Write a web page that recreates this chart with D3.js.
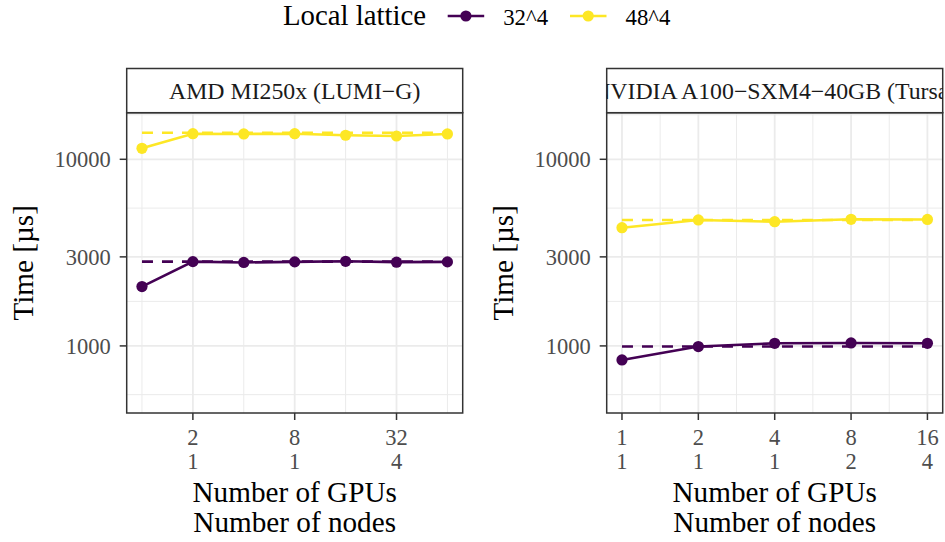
<!DOCTYPE html>
<html>
<head>
<meta charset="utf-8">
<script src="https://cdn.jsdelivr.net/npm/d3@7"></script>
<style>
  body { margin: 0; background: #ffffff; }
  text { font-family: "Liberation Serif", "DejaVu Serif", serif; }
</style>
</head>
<body>
<div id="chart"></div>
<script>

// ---- data ----
var seriesNames = ["32^4", "48^4"];
var seriesColors = ["#440154", "#FDE725"];

// LUMI-G panel
var lumiTitle = "AMD MI250x (LUMI\u2212G)";
var lumiGpus = [1, 2, 4, 8, 16, 32, 64];
var lumi32 = [2080, 2830, 2800, 2820, 2840, 2810, 2820];
var lumi48 = [11450, 13710, 13670, 13710, 13450, 13330, 13670];
var lumiRef32 = 2830;
var lumiRef48 = 13880;
var lumiTicks = [2, 8, 32];
var lumiNodeLabels = ["1", "1", "4"];

// Tursa panel
var tursaTitle = "NVIDIA A100\u2212SXM4\u221240GB (Tursa)";
var tursaGpus = [1, 2, 4, 8, 16];
var tursa32 = [841, 992, 1033, 1037, 1033];
var tursa48 = [4300, 4730, 4630, 4770, 4760];
var tursaRef32 = 992;
var tursaRef48 = 4730;
var tursaTicks = [1, 2, 4, 8, 16];
var tursaNodeLabels = ["1", "1", "1", "2", "4"];

var yTicks = [1000, 3000, 10000];
var yMinor = [548, 1732, 5477, 17320];

// ---- layout ----
var svgWidth = 945;
var svgHeight = 542;

var stripTop = 68.5;
var panelTop = 112.7;
var panelBottom = 413;

var svg = d3.select("#chart")
  .append("svg")
  .attr("width", svgWidth)
  .attr("height", svgHeight);

// shared log y scale
var yScale = d3.scaleLog()
  .domain([437, 17770])
  .range([panelBottom, panelTop]);

svg.append("defs").append("clipPath")
  .attr("id", "stripClip2")
  .append("rect")
  .attr("x", 606.7).attr("y", stripTop)
  .attr("width", 336).attr("height", panelTop - stripTop);

function drawPanel(cfg) {
  var x0 = cfg.x0, x1 = cfg.x1;
  var lo = Math.log2(d3.min(cfg.gpus)), hi = Math.log2(d3.max(cfg.gpus));
  var pad = (hi - lo) * 0.05;

  var xScale = d3.scaleLog()
    .base(2)
    .domain([Math.pow(2, lo - pad), Math.pow(2, hi + pad)])
    .range([x0, x1]);

  var g = svg.append("g");

  // minor x gridlines at midpoints between major ticks (log space)
  var xMinor = [];
  var step = Math.log2(cfg.ticks[1]) - Math.log2(cfg.ticks[0]);
  for (var v = Math.log2(cfg.ticks[0]) - step / 2; v <= hi + pad; v += step) {
    xMinor.push(Math.pow(2, v));
  }
  xMinor = xMinor.filter(d => xScale(d) > x0 && xScale(d) < x1);

  g.selectAll(".xminor")
    .data(xMinor)
    .enter()
    .append("line")
    .attr("x1", d => xScale(d)).attr("x2", d => xScale(d))
    .attr("y1", panelTop).attr("y2", panelBottom)
    .attr("stroke", "#ebebeb")
    .attr("stroke-width", 1);

  g.selectAll(".yminor")
    .data(yMinor.filter(d => yScale(d) > panelTop && yScale(d) < panelBottom))
    .enter()
    .append("line")
    .attr("x1", x0).attr("x2", x1)
    .attr("y1", d => yScale(d)).attr("y2", d => yScale(d))
    .attr("stroke", "#ebebeb")
    .attr("stroke-width", 1);

  g.selectAll(".xmajor")
    .data(cfg.ticks)
    .enter()
    .append("line")
    .attr("x1", d => xScale(d)).attr("x2", d => xScale(d))
    .attr("y1", panelTop).attr("y2", panelBottom)
    .attr("stroke", "#ebebeb")
    .attr("stroke-width", 1.8);

  g.selectAll(".ymajor")
    .data(yTicks)
    .enter()
    .append("line")
    .attr("x1", x0).attr("x2", x1)
    .attr("y1", d => yScale(d)).attr("y2", d => yScale(d))
    .attr("stroke", "#ebebeb")
    .attr("stroke-width", 1.8);

  // dashed reference lines
  cfg.refs.forEach(function(r, i) {
    g.append("path")
      .datum(cfg.gpus)
      .attr("d", d3.line().x(d => xScale(d)).y(() => yScale(r)))
      .attr("fill", "none")
      .attr("stroke", seriesColors[i])
      .attr("stroke-width", 2.6)
      .attr("stroke-dasharray", "11,9");
  });

  // measured lines + points
  cfg.series.forEach(function(vals, i) {
    var pts = cfg.gpus.map((gp, j) => ({ gpus: gp, time: vals[j] }));

    g.append("path")
      .datum(pts)
      .attr("d", d3.line().x(d => xScale(d.gpus)).y(d => yScale(d.time)))
      .attr("fill", "none")
      .attr("stroke", seriesColors[i])
      .attr("stroke-width", 2.6);

    g.selectAll(".pt" + i)
      .data(pts)
      .enter()
      .append("circle")
      .attr("cx", d => xScale(d.gpus))
      .attr("cy", d => yScale(d.time))
      .attr("r", 5.6)
      .attr("fill", seriesColors[i]);
  });

  // panel border
  g.append("rect")
    .attr("x", x0).attr("y", panelTop)
    .attr("width", x1 - x0).attr("height", panelBottom - panelTop)
    .attr("fill", "none")
    .attr("stroke", "#333333")
    .attr("stroke-width", 1.5);

  // strip
  g.append("rect")
    .attr("x", x0).attr("y", stripTop)
    .attr("width", x1 - x0).attr("height", panelTop - stripTop)
    .attr("fill", "#ffffff")
    .attr("stroke", "#333333")
    .attr("stroke-width", 1.5);

  var strip = g.append("text")
    .attr("x", (x0 + x1) / 2)
    .attr("y", 99.3)
    .attr("text-anchor", "middle")
    .attr("font-size", "23.8px")
    .attr("fill", "#1a1a1a")
    .text(cfg.title);
  if (cfg.clip) strip.attr("clip-path", "url(#" + cfg.clip + ")");

  // y axis ticks + labels
  g.selectAll(".ytick")
    .data(yTicks)
    .enter()
    .append("line")
    .attr("x1", x0 - 7).attr("x2", x0)
    .attr("y1", d => yScale(d)).attr("y2", d => yScale(d))
    .attr("stroke", "#333333")
    .attr("stroke-width", 1.5);

  g.selectAll(".ylab")
    .data(yTicks)
    .enter()
    .append("text")
    .attr("x", x0 - 16)
    .attr("y", d => yScale(d))
    .attr("dy", "0.35em")
    .attr("text-anchor", "end")
    .attr("font-size", "22.5px")
    .attr("fill", "#4d4d4d")
    .text(d => d);

  // x axis ticks + two rows of labels
  g.selectAll(".xtick")
    .data(cfg.ticks)
    .enter()
    .append("line")
    .attr("x1", d => xScale(d)).attr("x2", d => xScale(d))
    .attr("y1", panelBottom).attr("y2", panelBottom + 7)
    .attr("stroke", "#333333")
    .attr("stroke-width", 1.5);

  g.selectAll(".xlab")
    .data(cfg.ticks)
    .enter()
    .append("text")
    .attr("x", d => xScale(d))
    .attr("y", 445)
    .attr("text-anchor", "middle")
    .attr("font-size", "22.5px")
    .attr("fill", "#4d4d4d")
    .text(d => d);

  g.selectAll(".nodelab")
    .data(cfg.ticks)
    .enter()
    .append("text")
    .attr("x", d => xScale(d))
    .attr("y", 469.3)
    .attr("text-anchor", "middle")
    .attr("font-size", "22.5px")
    .attr("fill", "#4d4d4d")
    .text((d, i) => cfg.nodes[i]);

  // axis titles
  var cx = (x0 + x1) / 2;
  g.append("text")
    .attr("x", cx).attr("y", 501.7)
    .attr("text-anchor", "middle")
    .attr("font-size", "29.2px")
    .text("Number of GPUs");
  g.append("text")
    .attr("x", cx).attr("y", 531.7)
    .attr("text-anchor", "middle")
    .attr("font-size", "29.2px")
    .text("Number of nodes");

  g.append("text")
    .attr("transform", `translate(${x0 - 94}, ${(panelTop + panelBottom) / 2}) rotate(-90)`)
    .attr("text-anchor", "middle")
    .attr("font-size", "29.2px")
    .text("Time [\u00b5s]");
}

drawPanel({
  x0: 126.7, x1: 462.7,
  gpus: lumiGpus, series: [lumi32, lumi48], refs: [lumiRef32, lumiRef48],
  ticks: lumiTicks, nodes: lumiNodeLabels, title: lumiTitle
});

drawPanel({
  x0: 606.7, x1: 942.7,
  gpus: tursaGpus, series: [tursa32, tursa48], refs: [tursaRef32, tursaRef48],
  ticks: tursaTicks, nodes: tursaNodeLabels, title: tursaTitle, clip: "stripClip2"
});

// ---- legend ----
var legend = svg.append("g");

legend.append("text")
  .attr("x", 283).attr("y", 25)
  .attr("font-size", "28.8px")
  .text("Local lattice");

var keyX = [447.7, 570];
seriesNames.forEach(function(name, i) {
  legend.append("line")
    .attr("x1", keyX[i]).attr("x2", keyX[i] + 36.5)
    .attr("y1", 16).attr("y2", 16)
    .attr("stroke", seriesColors[i])
    .attr("stroke-width", 2.6);
  legend.append("circle")
    .attr("cx", keyX[i] + 18.2).attr("cy", 16)
    .attr("r", 5.6)
    .attr("fill", seriesColors[i]);
  legend.append("text")
    .attr("x", keyX[i] + 55.5).attr("y", 25)
    .attr("font-size", "22.8px")
    .text(name);
});

</script>
</body>
</html>
